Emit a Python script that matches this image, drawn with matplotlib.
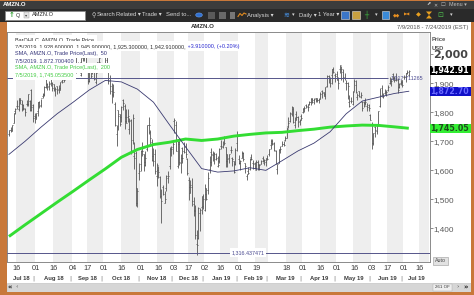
import matplotlib
matplotlib.use('Agg')
import matplotlib.pyplot as plt
import matplotlib.patches as mpatches
import matplotlib.transforms as mtrans
from matplotlib.text import Annotation
import numpy as np
import pandas as pd

W, H = 474, 295

# ---------------- data (daily OHLC, 9 Jul 2018 - 5 Jul 2019) ----------------
opens = [
    1724,1739,1737,1764,1803,1821,1812,1849,1830,1826,1812,1829,1829,1840,1877,1827,1786,
    1785,1803,1837,1825,1856,1860,1888,1889,1891,1902,1902,1897,1876,1891,1879,1876,1907,1910,1915,1937,1954,1998,2007,
    2026,2039,2007,1939,1971,1929,1995,2001,1992,1955,1908,1941,1938,1953,1903,1942,1968,1993,2004,
    2021,1999,1982,1949,1918,1874,1859,1829,1725,1808,1795,1784,1842,1822,1785,1784,1742,1773,1703,1649,1660,1487,1591,
    1623,1678,1657,1619,1674,1755,1733,1699,1649,1657,1581,1600,1577,1438,1542,1487,1540,1575,1614,1675,1680,
    1769,1756,1614,1691,1624,1678,1665,1681,1639,1567,1541,1544,1485,1465,1346,1368,1454,1474,1510,
    1465,1520,1531,1603,1664,1653,1641,1640,1615,1632,1685,1680,1713,1681,1657,1642,1670,1643,1632,1623,1693,
    1638,1624,1643,1660,1626,1582,1599,1604,1647,1624,1627,1601,1630,1619,1623,1641,1625,1628,1636,
    1655,1686,1702,1695,1667,1604,1627,1673,1684,1691,1704,1712,1753,1769,1794,1811,1758,1793,1784,1770,1786,
    1801,1811,1826,1820,1829,1834,1845,1841,1849,1848,1842,1852,1872,1869,1855,1891,1925,1917,1929,1950,1930,
    1933,1913,1950,1918,1940,1918,1900,1900,1837,1839,1828,1875,1893,1852,1874,1852,1837,1835,1832,1823,1825,1791,
    1760,1699,1749,1737,1760,1822,1883,1854,1866,1864,1876,1901,1907,1933,1917,1913,1911,1886,1902,1910,
    1922,1922,1935,1928.6]
highs = [
    1739,1750,1756,1799,1815,1841,1851,1851,1841,1828,1815,1841,1864,1844,1881,1829,1799,
    1799,1836,1840,1847,1868,1890,1914,1900,1908,1919,1905,1898,1888,1892,1895,1906,1919,1916,1928,1941,1999,2025,2023,
    2050,2040,2007,1975,1972,1988,2001,2003,1993,1956,1941,1946,1956,1957,1940,1975,1995,2017,2026,
    2033,2013,1990,1956,1929,1902,1896,1836,1756,1808,1796,1823,1846,1829,1810,1810,1779,1778,1794,1699,1665,1540,1625,
    1670,1697,1658,1665,1756,1784,1740,1708,1677,1673,1626,1614,1581,1534,1550,1529,1585,1597,1681,1685,1697,
    1779,1770,1701,1704,1657,1679,1697,1693,1642,1576,1567,1574,1509,1481,1396,1474,1470,1513,1520,
    1554,1538,1594,1649,1677,1667,1663,1660,1648,1676,1705,1700,1717,1681,1657,1657,1683,1645,1633,1676,1737,
    1653,1634,1665,1664,1627,1588,1610,1643,1655,1637,1629,1634,1634,1623,1634,1648,1639,1642,1652,
    1674,1709,1707,1698,1669,1623,1673,1684,1701,1702,1718,1750,1784,1800,1823,1818,1783,1805,1788,1777,1793,
    1816,1821,1830,1828,1838,1850,1849,1848,1849,1851,1848,1870,1876,1870,1888,1929,1929,1923,1951,1956,1935,
    1944,1921,1964,1959,1950,1935,1910,1904,1859,1853,1874,1916,1910,1868,1875,1871,1838,1840,1849,1831,1830,1796,
    1767,1730,1752,1761,1806,1884,1894,1866,1881,1876,1895,1922,1917,1935,1925,1935,1917,1901,1911,1913,
    1930,1935,1947,1945.9]
lows = [
    1719,1731,1734,1762,1796,1811,1803,1830,1804,1809,1787,1821,1822,1804,1806,1767,1764,
    1776,1786,1815,1819,1848,1855,1883,1877,1878,1891,1872,1875,1855,1863,1867,1876,1900,1903,1910,1928,1950,1987,2004,
    2013,1990,1935,1938,1935,1925,1978,1978,1959,1896,1906,1919,1932,1911,1898,1938,1961,1988,1997,
    2003,1965,1946,1896,1862,1831,1852,1752,1685,1740,1752,1765,1807,1741,1762,1768,1724,1656,1692,1603,1476,1475,1565,
    1598,1651,1597,1615,1667,1725,1688,1631,1614,1588,1546,1573,1503,1420,1515,1486,1528,1557,1603,1650,1657,
    1730,1665,1609,1620,1590,1627,1661,1641,1585,1499,1522,1476,1442,1363,1307,1363,1391,1449,1467,
    1460,1498,1519,1591,1616,1633,1621,1636,1611,1627,1675,1677,1687,1610,1612,1626,1661,1614,1590,1619,1666,
    1621,1600,1643,1633,1592,1566,1587,1602,1637,1606,1604,1600,1601,1601,1621,1630,1617,1615,1636,
    1651,1674,1689,1666,1621,1587,1627,1661,1683,1683,1702,1712,1745,1767,1788,1763,1747,1774,1749,1758,1773,
    1798,1802,1815,1805,1824,1826,1831,1829,1834,1837,1831,1847,1851,1856,1845,1889,1900,1887,1898,1934,1906,
    1910,1882,1937,1911,1903,1910,1878,1845,1820,1831,1825,1875,1867,1844,1853,1851,1806,1818,1825,1804,1806,1773,
    1673,1689,1716,1726,1758,1819,1858,1849,1862,1858,1874,1896,1892,1910,1906,1907,1865,1883,1894,1889,
    1914,1906,1932,1925.3]
closes = [
    1739,1743,1755,1797,1813,1822,1844,1843,1813,1814,1802,1829,1864,1808,1817,1779,1777,
    1797,1834,1823,1848,1862,1887,1899,1886,1896,1920,1883,1880,1882,1877,1883,1905,1903,1905,1928,1933,1998,2002,2013,
    2040,1995,1958,1952,1939,1987,1990,1990,1970,1908,1941,1926,1944,1915,1934,1975,1975,2013,2003,
    2004,1971,1953,1909,1890,1864,1870,1755,1719,1789,1761,1820,1832,1771,1764,1789,1769,1664,1782,1643,1539,1530,1598,
    1665,1665,1628,1643,1755,1755,1712,1637,1631,1599,1619,1593,1512,1495,1517,1502,1581,1581,1678,1674,1690,
    1772,1668,1699,1629,1641,1643,1664,1658,1592,1521,1551,1495,1461,1377,1344,1471,1462,1478,1502,
    1539,1500,1575,1630,1657,1659,1656,1641,1617,1675,1684,1693,1696,1632,1640,1655,1671,1638,1594,1670,1719,
    1626,1633,1659,1640,1614,1588,1591,1638,1640,1623,1608,1628,1622,1619,1632,1633,1636,1641,1640,
    1672,1696,1692,1669,1626,1621,1671,1673,1691,1686,1712,1742,1762,1797,1819,1765,1774,1784,1766,1773,1781,
    1814,1814,1821,1819,1837,1850,1836,1847,1844,1843,1845,1863,1865,1862,1887,1924,1902,1902,1951,1938,1927,
    1912,1901,1962,1951,1921,1918,1900,1890,1823,1840,1871,1908,1869,1859,1858,1860,1815,1823,1836,1819,1816,1775,
    1693,1730,1739,1754,1804,1861,1864,1855,1870,1870,1886,1901,1909,1918,1911,1914,1878,1898,1904,1894,
    1922,1934,1939,1942.91]

sma_days = [0, 10, 20, 30, 40, 50, 60, 70, 80, 90, 100, 110, 120, 130, 140, 150,
            160, 170, 180, 190, 200, 210, 220, 230, 240, 249]
sma50 = [1655, 1700, 1749, 1795, 1835, 1877, 1910, 1905, 1880, 1835, 1757, 1681, 1606,
         1594, 1598, 1609, 1600, 1633, 1667, 1694, 1733, 1795, 1839, 1852, 1865, 1872.70]
sma200 = [1372, 1412, 1451, 1490, 1528, 1567, 1605, 1645, 1672, 1689, 1697, 1708, 1703,
          1708, 1718, 1724, 1729, 1731, 1737, 1742, 1749, 1753, 1756, 1755, 1750, 1745.05]

hline_levels = [1917.711265, 1316.437471]
hline_labels = ['1,917.711265', '1,316.437471']

price_ticks = [1400, 1500, 1600, 1700, 1800, 1900, 2000]
price_tick_labels = ['1,400', '1,500', '1,600', '1,700', '1,800', '1,900', '2,000']

last_values = [1942.91, 1872.7004, 1745.0535]
last_labels = ['1,942.91', '1,872.70', '1,745.05']

day_tick_dates = ['2018-07-16', '2018-08-01', '2018-08-16', '2018-09-04', '2018-09-17',
                  '2018-10-01', '2018-10-16', '2018-11-01', '2018-11-16', '2018-12-03',
                  '2018-12-17', '2019-01-02', '2019-01-16', '2019-02-01', '2019-02-19',
                  '2019-03-18', '2019-04-01', '2019-04-16', '2019-05-01', '2019-05-16',
                  '2019-06-03', '2019-06-17', '2019-07-01', '2019-07-16']
day_tick_labels = ['16', '01', '16', '04', '17', '01', '16', '01', '16', '03', '17', '02',
                   '16', '01', '19', '18', '01', '16', '01', '16', '03', '17', '01', '16']
month_labels = ['Jul 18', 'Aug 18', 'Sep 18', 'Oct 18', 'Nov 18', 'Dec 18', 'Jan 19',
                'Feb 19', 'Mar 19', 'Apr 19', 'May 19', 'Jun 19', 'Jul 19']
band_dates = [('2018-07-16', '2018-08-01'), ('2018-08-16', '2018-09-04'),
              ('2018-09-17', '2018-10-01'), ('2018-10-16', '2018-11-01'),
              ('2018-11-16', '2018-12-03'), ('2018-12-17', '2019-01-02'),
              ('2019-01-16', '2019-02-01'), ('2019-02-19', '2019-03-01'),
              ('2019-03-18', '2019-04-01'), ('2019-04-16', '2019-05-01'),
              ('2019-05-16', '2019-06-03'), ('2019-06-17', '2019-07-01'),
              ('2019-07-16', '2019-07-24')]

holidays = pd.to_datetime(['2018-09-03', '2018-11-22', '2018-12-05', '2018-12-25',
                           '2019-01-01', '2019-01-21', '2019-02-18', '2019-04-19',
                           '2019-05-27', '2019-07-04'])
days = pd.bdate_range('2018-07-09', '2019-07-24')
days = days[~days.isin(holidays)]
pos = {d: i for i, d in enumerate(days)}
def P(s):
    return pos[pd.Timestamp(s)]

idx = np.arange(len(closes))

# ---------------- figure ----------------
fig = plt.figure(figsize=(W / 100, H / 100), dpi=100)
fig.patch.set_facecolor('white')

def R(x, y, w, h, fc, ec='none', z=1, lw=0.5):
    r = mpatches.Rectangle((x / W, 1 - (y + h) / H), w / W, h / H, transform=fig.transFigure,
                           fc=fc, ec=ec, lw=lw, zorder=z)
    fig.add_artist(r)
    return r

def T(x, y, s, **kw):
    kw.setdefault('va', 'center')
    return fig.text(x / W, 1 - y / H, s, **kw)

LIB = ['Liberation Sans', 'DejaVu Sans']
DJ = ['DejaVu Sans']

# ---- top bars ----
R(0, 0, W, 8.5, '#3c3c3c')
R(0, 8.5, W, 13.5, '#2a2a2a')
T(3, 4.6, 'AMZN.O', color='white', fontsize=4.3, fontweight='bold', family=LIB)
T(427, 4.6, '⬈', color='#bbbbbb', fontsize=3.8, family=DJ)
T(433, 4.6, '✕', color='#bbbbbb', fontsize=3.5, family=DJ)
T(441, 4.6, '☐', color='#bbbbbb', fontsize=3.8, family=DJ)
T(449, 4.6, 'Menu ▾', color='#bbbbbb', fontsize=3.9, family=LIB)

R(5, 10.5, 80, 9, 'white', ec='#888888', z=2)
T(8.5, 15, '↑', color='#2fa02f', fontsize=5, fontweight='bold', family=DJ)
T(16, 15, 'Q', color='#333333', fontsize=4, family=LIB)
R(24, 12, 5, 6, '#e4e4e4', ec='#999999', z=3, lw=0.3)
T(24.5, 15, '▾', color='#444444', fontsize=3.2, family=DJ)
T(32, 15, 'AMZN.O', color='#222222', fontsize=4.1, family=LIB)
tb = '#d8d8d8'
T(91, 15, '⚲', color=tb, fontsize=4.2, family=DJ)
T(97, 15, 'Search', color=tb, fontsize=4.2, family=LIB)
T(116, 15, 'Related ▾', color=tb, fontsize=4.2, family=LIB)
T(142, 15, 'Trade ▾', color=tb, fontsize=4.2, family=LIB)
T(166, 15, 'Send to...', color=tb, fontsize=4.2, family=LIB)
fig.add_artist(mpatches.Circle((199 / W, 1 - 15 / H), 3.3 / W, transform=fig.transFigure,
                               fc='#3070d0', ec='#6aa0f0', lw=0.4, zorder=2))
R(208, 11.5, 7, 7, '#5a5a5a', z=2)
R(219, 11.5, 7, 7, '#6a6a6a', z=2)
R(230, 11.5, 5, 7, '#777777', z=2)
fig.add_artist(plt.Line2D(np.array([238, 240, 242, 244, 246]) / W,
                          1 - np.array([16.5, 13.5, 15.5, 13, 14]) / H,
                          transform=fig.transFigure, color='#e08a20', lw=0.8, zorder=3))
T(247, 15, 'Analysis ▾', color=tb, fontsize=4.2, family=LIB)
T(283, 15, '≋', color='#4aa0ff', fontsize=5, family=DJ)
T(292, 15, '▾', color=tb, fontsize=3.8, family=DJ)
T(299, 15, 'Daily ▾', color=tb, fontsize=4.2, family=LIB)
T(318, 15, '1 Year ▾', color=tb, fontsize=4.2, family=LIB)
R(341, 11, 8, 8, '#3b76c8', ec='#dddddd', z=2, lw=0.4)
R(352, 11, 8, 8, '#c8a040', ec='#dddddd', z=2, lw=0.4)
T(364, 15, '┼', color='#40c040', fontsize=5, family=DJ)
T(375, 15, '▾', color=tb, fontsize=3.8, family=DJ)
R(382, 11, 7, 8, '#3a8ad8', ec='#dddddd', z=2, lw=0.4)
T(393, 15, '◆◆', color='#e89020', fontsize=3.4, family=DJ)
T(404, 15, '▶◀', color='#e89020', fontsize=3.0, family=DJ)
T(416, 15, '◆', color='#e8a020', fontsize=4.6, family=DJ)
fig.add_artist(mpatches.Polygon(np.column_stack([np.array([426, 432, 426, 432]) / W,
                                                 1 - np.array([11.5, 11.5, 18.5, 18.5]) / H]),
                                closed=True, transform=fig.transFigure, fc='#e8a020',
                                ec='none', zorder=3))
T(437, 15, '⊡', color='#50c050', fontsize=5, family=DJ)
T(450, 15, '▾', color=tb, fontsize=3.8, family=DJ)

# chart header
T(203, 27, 'AMZN.O', color='#333333', fontsize=4.4, fontweight='bold', family=LIB, ha='center')
T(468, 27, '7/9/2018 - 7/24/2019 (EST)', color='#555555', fontsize=4.2, family=LIB, ha='right')

# ---------------- main axes ----------------
ax = fig.add_axes([7 / W, 1 - 262 / H, 423 / W, 230 / H])
ax.set_facecolor('white')
ax.set_xlim(-1.2, 262.2)
ax.set_ylim(1284, 2077)

for a, b in band_dates:
    ax.axvspan(P(a) - 0.5, P(b) - 0.5, color='#eeeeee', lw=0, zorder=0)

bar_c = '#555555'
ax.vlines(idx, lows, highs, color=bar_c, lw=0.6, zorder=2)
ax.hlines(opens, idx - 0.6, idx, color=bar_c, lw=0.6, zorder=2)
ax.hlines(closes, idx, idx + 0.6, color=bar_c, lw=0.6, zorder=2)

ax.plot(sma_days, sma200, color='#33dd33', lw=2.1, zorder=3, solid_capstyle='butt')
ax.plot(sma_days, sma50, color='#3a3a70', lw=0.6, zorder=4)

line_c = '#55558a'
ax.hlines(hline_levels[0], -1.2, 236, color=line_c, lw=0.7, zorder=4)
ax.text(237.5, hline_levels[0], hline_labels[0], color='#4a4a90', fontsize=3.9, family=LIB,
        ha='left', va='center', zorder=5)
ax.hlines(hline_levels[1], -1.2, 262.2, color=line_c, lw=0.7, zorder=4)
ax.text(149, hline_levels[1], hline_labels[1], color='#4a4a90', fontsize=3.9, family=LIB,
        ha='center', va='center', zorder=5,
        bbox=dict(boxstyle='square,pad=0.3', fc='white', ec='none'))

for s in ax.spines.values():
    s.set_color('#8a8a8a')
    s.set_linewidth(0.7)
ax.set_xticks([])
ax.yaxis.tick_right()
ax.set_yticks(price_ticks)
ax.set_yticklabels(price_tick_labels)
ax.tick_params(axis='y', direction='out', length=2.2, width=0.6, color='#777777', pad=0.4,
               labelsize=5.9, labelcolor='#5a5a5a')
for lab in ax.get_yticklabels():
    lab.set_fontfamily(LIB)
    if lab.get_text() == '2,000':
        lab.set_fontfamily(DJ)
        lab.set_fontsize(8.0)
        lab.set_fontweight('bold')
        lab.set_color('#444444')

# legend text (top-left, white backed)
leg_x = 15
leg = [
    (39.5, 'BarOHLC, AMZN.O, Trade Price', '#333333'),
    (46.3, '7/5/2019, 1,928.600000, 1,945.900000, 1,925.300000, 1,942.910000,', '#333333'),
    (53.2, 'SMA, AMZN.O, Trade Price(Last),  50', '#35357a'),
    (60.6, '7/5/2019, 1,872.700400', '#35357a'),
    (67.6, 'SMA, AMZN.O, Trade Price(Last),  200', '#44cc44'),
    (74.6, '7/5/2019, 1,745.053500', '#44cc44'),
]
leg_texts = []
for y, s, c in leg:
    t = T(leg_x, y, s, color=c, fontsize=4.0, family=LIB, zorder=6,
          bbox=dict(boxstyle='square,pad=0.45', fc='white', ec='none'))
    leg_texts.append(t)
chg = Annotation(' +3.910000, (+0.20%)', xy=(1, 0.5), xycoords=leg_texts[1], va='center',
                 ha='left', color='#2a2ad0', fontsize=4.0, family=LIB, zorder=6,
                 bbox=dict(boxstyle='square,pad=0.45', fc='white', ec='none'))
fig.add_artist(chg)

# right side labels
btr = mtrans.blended_transform_factory(fig.transFigure, ax.transData)
fig.text(431.5 / W, 2052, 'Price', transform=btr, fontsize=4.2, fontweight='bold',
         color='#555555', family=LIB, va='center')
fig.text(431.5 / W, 2020, 'USD', transform=btr, fontsize=4.2, fontweight='bold',
         color='#555555', family=LIB, va='center')
box_styles = [('#000000', 'white'), ('#1010c8', '#6a6aff'), ('#33ee33', '#1d4a1d')]
ppx = (2077 - 1284) / 230.0  # price units per pixel
for v, s, (fc, tc) in zip(last_values, last_labels, box_styles):
    box = mpatches.Rectangle((429.6 / W, v - 4.6 * ppx), (471 - 429.6) / W, 9.2 * ppx,
                             transform=btr, fc=fc, ec='none', zorder=6)
    fig.add_artist(box)
    fig.text(430.6 / W, v, s, transform=btr, fontsize=5.7, fontweight='bold', color=tc,
             family=DJ, va='center', ha='left', zorder=7)

R(433, 257, 15, 7.5, '#e2e2e2', ec='#9a9a9a', z=3, lw=0.4)
T(440.5, 260.8, 'Auto', color='#444444', fontsize=3.8, family=LIB, ha='center', zorder=4)

# bottom axis labels
bx = mtrans.blended_transform_factory(ax.transData, fig.transFigure)
for d, s in zip(day_tick_dates, day_tick_labels):
    fig.text(P(d), 1 - 268.5 / H, s, transform=bx, fontsize=5.3, color='#3a3a3a',
             family=LIB, ha='center', va='center')
month_starts = []
for y_, m_ in [(2018, 7), (2018, 8), (2018, 9), (2018, 10), (2018, 11), (2018, 12), (2019, 1),
               (2019, 2), (2019, 3), (2019, 4), (2019, 5), (2019, 6), (2019, 7)]:
    sel = np.where((days.year == y_) & (days.month == m_))[0]
    month_starts.append(sel[0])
xl0, xl1 = ax.get_xlim()
edges = [max(m - 0.5, xl0) for m in month_starts] + [xl1]
for k, s in enumerate(month_labels):
    c = 0.5 * (edges[k] + edges[k + 1])
    fig.text(c, 1 - 278.3 / H, s, transform=bx, fontsize=4.2, fontweight='bold',
             color='#3a3a3a', family=LIB, ha='center', va='center')
    if k > 0:
        fig.text(month_starts[k] - 1.6, 1 - 278.3 / H, '|', transform=bx, fontsize=4.5,
                 color='#777777', ha='center', va='center')

# scrollbar
R(7, 282.5, 464, 9.5, '#d6d6d6', ec='#bdbdbd', lw=0.4)
T(8, 287.2, '«', color='#222222', fontsize=5, fontweight='bold', family=DJ)
T(15, 287.2, '‹', color='#555555', fontsize=4.5, family=DJ)
R(433, 284, 19, 6.5, '#eeeeee', ec='#aaaaaa', z=2, lw=0.3)
T(442.5, 287.2, '261 OF', color='#333333', fontsize=3.2, family=LIB, ha='center', zorder=3)
T(456, 287.2, '›', color='#555555', fontsize=4.5, family=DJ)
T(463, 287.2, '»', color='#222222', fontsize=5, fontweight='bold', family=DJ)

# orange frame
oc = '#c8783a'
R(0, 0, W, 1.0, oc, z=10)
R(0, 21.5, 6.5, H - 21.5, oc, z=10)
R(471, 21.5, 3, H - 21.5, oc, z=10)
R(0, 292, W, 3, oc, z=10)

fig.savefig('out.png', dpi=100, facecolor='white')
